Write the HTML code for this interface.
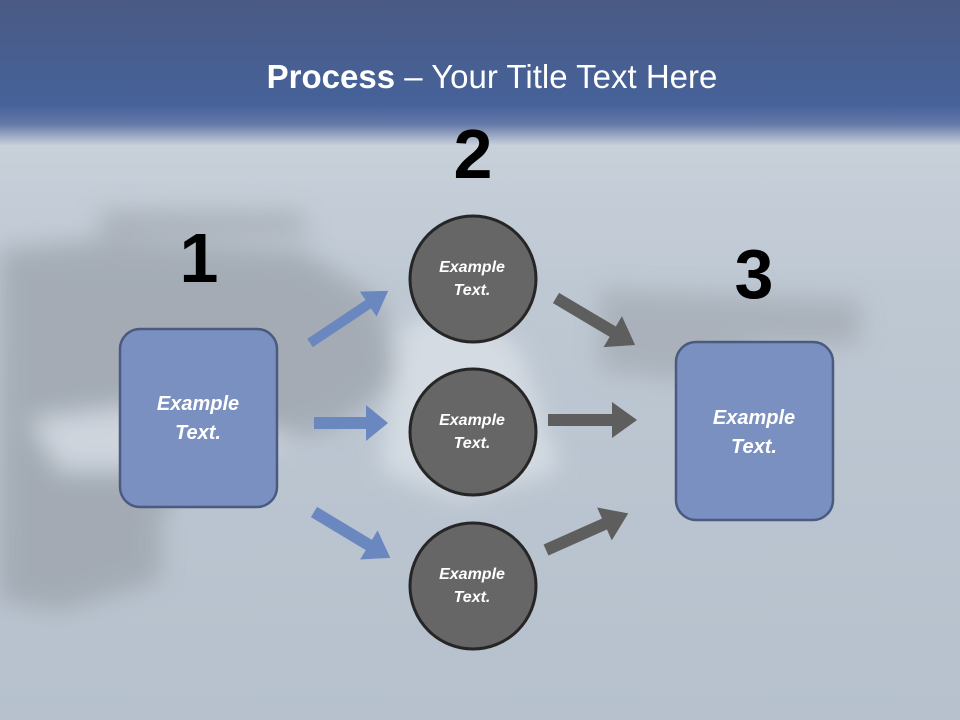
<!DOCTYPE html>
<html><head><style>
body{margin:0;width:960px;height:720px;overflow:hidden;font-family:"Liberation Sans",sans-serif;}
</style></head><body>
<svg width="960" height="720" viewBox="0 0 960 720" xmlns="http://www.w3.org/2000/svg" style="display:block">
<defs>
<linearGradient id="hdr" x1="0" y1="0" x2="0" y2="1">
<stop offset="0" stop-color="#4a5a84"/>
<stop offset="0.72" stop-color="#46629a"/>
<stop offset="0.85" stop-color="#6479a8"/>
<stop offset="1" stop-color="#ccd2dd"/>
</linearGradient>
<linearGradient id="sea" x1="0" y1="0" x2="0" y2="1">
<stop offset="0" stop-color="#d2d8e0"/>
<stop offset="0.4" stop-color="#bec8d3"/>
<stop offset="1" stop-color="#b6c1cd"/>
</linearGradient>
<filter id="bl"><feGaussianBlur stdDeviation="12"/></filter>
</defs>
<rect width="960" height="720" fill="url(#sea)"/>
<g filter="url(#bl)" opacity="0.7">
<path d="M0 250 L100 240 L300 250 L380 300 L400 380 L330 430 L200 450 L160 520 L160 580 L60 610 L0 600 Z" fill="#9aa0a8"/>
<path d="M100 210 L300 212 L310 235 L100 238 Z" fill="#a0a6ae"/>
<path d="M600 290 L860 300 L860 345 L760 345 L680 380 L600 370 Z" fill="#a2a8b0"/>
<path d="M400 330 L460 300 L520 350 L560 470 L460 500 L380 470 Z" fill="#dfe4ea"/>
<path d="M30 420 L180 400 L300 440 L200 470 L60 470 Z" fill="#d6dce3"/>
</g>
<rect width="960" height="146" fill="url(#hdr)"/>
<text x="492" y="88" text-anchor="middle" fill="#fff" font-size="33"><tspan font-weight="bold">Process</tspan> – Your Title Text Here</text>
<g font-weight="bold" font-size="70" fill="#000" text-anchor="middle">
<text x="473" y="178">2</text>
<text x="199" y="282">1</text>
<text x="754" y="298">3</text>
</g>
<g fill="#6a87c0">
<g transform="translate(310,343) rotate(-33.7)"><path d="M0 -5 L70 -5 L70 -15 L94 0 L70 15 L70 5 L0 5 Z"/></g>
<g transform="translate(314,423)"><path d="M0 -6 L52 -6 L52 -18 L74 0 L52 18 L52 6 L0 6 Z"/></g>
<g transform="translate(314,512) rotate(31)"><path d="M0 -6 L64 -6 L64 -17 L89 0 L64 17 L64 6 L0 6 Z"/></g>
</g>
<g fill="#5e5e5e">
<g transform="translate(556,298) rotate(30.7)"><path d="M0 -6 L66 -6 L66 -18 L92 0 L66 18 L66 6 L0 6 Z"/></g>
<g transform="translate(548,420)"><path d="M0 -6 L64 -6 L64 -18 L89 0 L64 18 L64 6 L0 6 Z"/></g>
<g transform="translate(546,550) rotate(-24)"><path d="M0 -6 L64 -6 L64 -18 L90 0 L64 18 L64 6 L0 6 Z"/></g>
</g>
<g fill="#666" stroke="#262626" stroke-width="3">
<circle cx="473" cy="279" r="63"/>
<circle cx="473" cy="432" r="63"/>
<circle cx="473" cy="586" r="63"/>
</g>
<g fill="#7a90c0" stroke="#4b5a80" stroke-width="2.5">
<rect x="120" y="329" width="157" height="178" rx="20"/>
<rect x="676" y="342" width="157" height="178" rx="20"/>
</g>
<g fill="#fff" font-weight="bold" font-style="italic" text-anchor="middle">
<g font-size="16">
<text x="472" y="272">Example</text><text x="472" y="295">Text.</text>
<text x="472" y="425">Example</text><text x="472" y="448">Text.</text>
<text x="472" y="579">Example</text><text x="472" y="602">Text.</text>
</g>
<g font-size="20">
<text x="198" y="410">Example</text><text x="198" y="439">Text.</text>
<text x="754" y="424">Example</text><text x="754" y="453">Text.</text>
</g>
</g>
</svg>
</body></html>
